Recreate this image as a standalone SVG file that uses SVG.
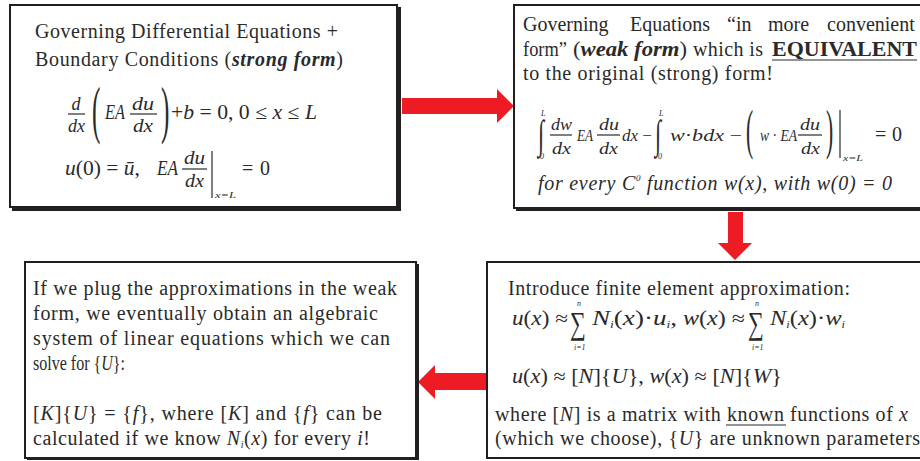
<svg xmlns="http://www.w3.org/2000/svg" width="920" height="461" viewBox="0 0 920 461" font-family="'Liberation Serif','Times New Roman',serif">
<style>
text{font-family:"Liberation Serif",Tinos,"Times New Roman",serif;font-size:20px;fill:#2a2a2a}
.i{font-style:italic}
.f{font-size:18px;font-style:italic}
.g{font-size:17px;font-style:italic}
.sm{font-size:10px;font-style:italic}
.lim{font-size:8px;font-style:italic}
.bar{stroke:#2a2a2a;stroke-width:1.2}
.box{fill:#fff;stroke:#231f20;stroke-width:2}
.sh{fill:#231f20}
.arr{fill:#ed1c24}
</style>
<rect width="920" height="461" fill="#fff"/>
<g id="connectors">
<polygon class="arr" points="402,98 497,98 497,89 514,106 497,123 497,114 402,114"/>
<polygon class="arr" points="728,212 743,212 743,243 752,243 735,260 718,243 728,243"/>
<polygon class="arr" points="487,373 435,373 435,365 418,382 435,399 435,390 487,390"/>
</g>
<g id="strong-form">
<rect class="sh" x="12" y="7" width="389" height="204"/>
<rect class="box" x="10" y="5" width="387" height="202"/>
<text x="35" y="38" textLength="303">Governing Differential Equations +</text>
<text x="35" y="66" textLength="308">Boundary Conditions (<tspan font-weight="bold" font-style="italic">strong form</tspan>)</text>
<text class="f" x="76" y="110" text-anchor="middle">d</text>
<line class="bar" x1="68" y1="114" x2="85" y2="114"/>
<text class="f" x="68" y="132" textLength="17" lengthAdjust="spacingAndGlyphs">dx</text>
<text transform="translate(92,131) scale(0.4,1)" style="font-size:63px;font-weight:300">(</text>
<text class="i" x="105" y="119" textLength="20" lengthAdjust="spacingAndGlyphs">EA</text>
<text class="f" x="132" y="110" textLength="22" lengthAdjust="spacingAndGlyphs">du</text>
<line class="bar" x1="130" y1="114" x2="157" y2="114"/>
<text class="f" x="133" y="132" textLength="20" lengthAdjust="spacingAndGlyphs">dx</text>
<text transform="translate(161,131) scale(0.4,1)" style="font-size:63px;font-weight:300">)</text>
<text x="171" y="119" textLength="146" lengthAdjust="spacingAndGlyphs">+<tspan class="i">b</tspan> = 0,  0 ≤ <tspan class="i">x</tspan> ≤ <tspan class="i">L</tspan></text>
<text x="65" y="175" textLength="75" lengthAdjust="spacingAndGlyphs"><tspan class="i">u</tspan>(0) = <tspan class="i">ū</tspan>,</text>
<text class="i" x="157" y="175" textLength="21" lengthAdjust="spacingAndGlyphs">EA</text>
<text class="f" x="184" y="164" textLength="21" lengthAdjust="spacingAndGlyphs">du</text>
<line class="bar" x1="182" y1="169" x2="207" y2="169"/>
<text class="f" x="185" y="187" textLength="19" lengthAdjust="spacingAndGlyphs">dx</text>
<line class="bar" x1="212" y1="151" x2="212" y2="198"/>
<text class="lim" x="215" y="198" textLength="21" lengthAdjust="spacingAndGlyphs">x=L</text>
<text x="242" y="175" textLength="28">= 0</text>
</g>
<g id="weak-form">
<rect class="sh" x="516" y="7" width="420" height="204"/>
<rect class="box" x="514" y="5" width="420" height="203"/>
<text y="31"><tspan x="523">Governing</tspan><tspan x="630">Equations</tspan><tspan x="727">“in</tspan><tspan x="768">more</tspan><tspan x="827">convenient</tspan></text>
<text x="523" y="56" textLength="44" lengthAdjust="spacingAndGlyphs">form”</text>
<text x="573" y="56" textLength="114" lengthAdjust="spacingAndGlyphs">(<tspan font-weight="bold" font-style="italic">weak form</tspan>)</text>
<text x="693" y="56" textLength="70">which is</text>
<text x="772" y="56" font-weight="bold" textLength="145" lengthAdjust="spacingAndGlyphs">EQUIVALENT</text>
<line class="bar" x1="772" y1="60" x2="917" y2="60" stroke-width="1.5"/>
<text x="523" y="80" textLength="250">to the original (strong) form!</text>
<text transform="translate(538,148) scale(0.55,1)" style="font-size:40px">∫</text>
<text class="lim" x="541" y="116">L</text>
<text class="lim" x="540" y="159" font-style="normal">0</text>
<text class="g" x="551" y="130" textLength="21" lengthAdjust="spacingAndGlyphs">dw</text>
<line class="bar" x1="550" y1="135" x2="572" y2="135"/>
<text class="g" x="552" y="154" textLength="19" lengthAdjust="spacingAndGlyphs">dx</text>
<text class="g" x="577" y="141" textLength="16" lengthAdjust="spacingAndGlyphs">EA</text>
<text class="g" x="599" y="130" textLength="20" lengthAdjust="spacingAndGlyphs">du</text>
<line class="bar" x1="597" y1="135" x2="620" y2="135"/>
<text class="g" x="599" y="154" textLength="19" lengthAdjust="spacingAndGlyphs">dx</text>
<text class="g" x="622" y="141" textLength="30" lengthAdjust="spacingAndGlyphs">dx <tspan font-style="normal">−</tspan></text>
<text transform="translate(655,148) scale(0.55,1)" style="font-size:40px">∫</text>
<text class="lim" x="659" y="116">L</text>
<text class="lim" x="658" y="159" font-style="normal">0</text>
<text class="g" x="670" y="141" textLength="72" lengthAdjust="spacingAndGlyphs">w<tspan font-style="normal">·</tspan>bdx <tspan font-style="normal">−</tspan></text>
<text transform="translate(746,148) scale(0.4,1)" style="font-size:54px">(</text>
<text class="g" x="760" y="141" textLength="37" lengthAdjust="spacingAndGlyphs">w <tspan font-style="normal">·</tspan> EA</text>
<text class="g" x="800" y="130" textLength="20" lengthAdjust="spacingAndGlyphs">du</text>
<line class="bar" x1="798" y1="135" x2="822" y2="135"/>
<text class="g" x="801" y="154" textLength="19" lengthAdjust="spacingAndGlyphs">dx</text>
<text transform="translate(826,148) scale(0.4,1)" style="font-size:54px">)</text>
<line class="bar" x1="840" y1="110" x2="840" y2="158"/>
<text class="lim" x="843" y="161" textLength="20" lengthAdjust="spacingAndGlyphs">x=L</text>
<text x="875" y="141" textLength="27">= 0</text>
<text class="i" x="538" y="190" textLength="354">for every C<tspan style="font-size:9px" dy="-9">0</tspan><tspan dy="9"> function w(</tspan>x), with w(0) = 0</text>
</g>
<g id="fe-approximation">
<rect class="box" x="487" y="262" width="440" height="196"/>
<text x="508" y="295" textLength="342">Introduce finite element approximation:</text>
<text x="512" y="325" textLength="56" lengthAdjust="spacingAndGlyphs"><tspan class="i">u</tspan>(<tspan class="i">x</tspan>) ≈</text>
<text transform="translate(570,334) scale(0.7,1)" style="font-size:32px">∑</text>
<text class="lim" x="577" y="306">n</text>
<text class="lim" x="574" y="350">i=1</text>
<text x="592" y="325" textLength="85" lengthAdjust="spacingAndGlyphs"><tspan class="i">N</tspan><tspan class="sm" dy="3">i</tspan><tspan dy="-3">(</tspan><tspan class="i">x</tspan>)·<tspan class="i">u</tspan><tspan class="sm" dy="3">i</tspan><tspan dy="-3">,</tspan></text>
<text x="683" y="325" textLength="62" lengthAdjust="spacingAndGlyphs"><tspan class="i">w</tspan>(<tspan class="i">x</tspan>) ≈</text>
<text transform="translate(748,334) scale(0.7,1)" style="font-size:32px">∑</text>
<text class="lim" x="755" y="306">n</text>
<text class="lim" x="752" y="350">i=1</text>
<text x="770" y="325" textLength="75" lengthAdjust="spacingAndGlyphs"><tspan class="i">N</tspan><tspan class="sm" dy="3">i</tspan><tspan dy="-3">(</tspan><tspan class="i">x</tspan>)·<tspan class="i">w</tspan><tspan class="sm" dy="3">i</tspan></text>
<text x="512" y="383" textLength="270" lengthAdjust="spacingAndGlyphs"><tspan class="i">u</tspan>(<tspan class="i">x</tspan>) ≈ [<tspan class="i">N</tspan>]{<tspan class="i">U</tspan>}, <tspan class="i">w</tspan>(<tspan class="i">x</tspan>) ≈ [<tspan class="i">N</tspan>]{<tspan class="i">W</tspan>}</text>
<text x="495" y="421" textLength="413">where [<tspan class="i">N</tspan>] is a matrix with known functions of <tspan class="i">x</tspan></text>
<line class="bar" x1="726" y1="425" x2="786" y2="425"/>
<text x="495" y="445" textLength="425">(which we choose), {<tspan class="i">U</tspan>} are unknown parameters</text>
</g>
<g id="algebraic-system">
<rect class="sh" x="27" y="264" width="392" height="196"/>
<rect class="box" x="25" y="262" width="391" height="196"/>
<text x="33" y="295" textLength="364">If we plug the approximations in the weak</text>
<text x="33" y="320" textLength="345">form, we eventually obtain an algebraic</text>
<text x="33" y="345" textLength="357">system of linear equations which we can</text>
<text x="33" y="370" textLength="92" lengthAdjust="spacingAndGlyphs">solve for {<tspan class="i">U</tspan>}:</text>
<text x="33" y="420" textLength="349">[<tspan class="i">K</tspan>]{<tspan class="i">U</tspan>} = {<tspan class="i">f</tspan>}, where [<tspan class="i">K</tspan>] and {<tspan class="i">f</tspan>} can be</text>
<text x="33" y="445" textLength="337">calculated if we know <tspan class="i">N</tspan><tspan class="sm" dy="3">i</tspan><tspan dy="-3">(</tspan><tspan class="i">x</tspan>) for every <tspan class="i">i</tspan>!</text>
</g>
</svg>
